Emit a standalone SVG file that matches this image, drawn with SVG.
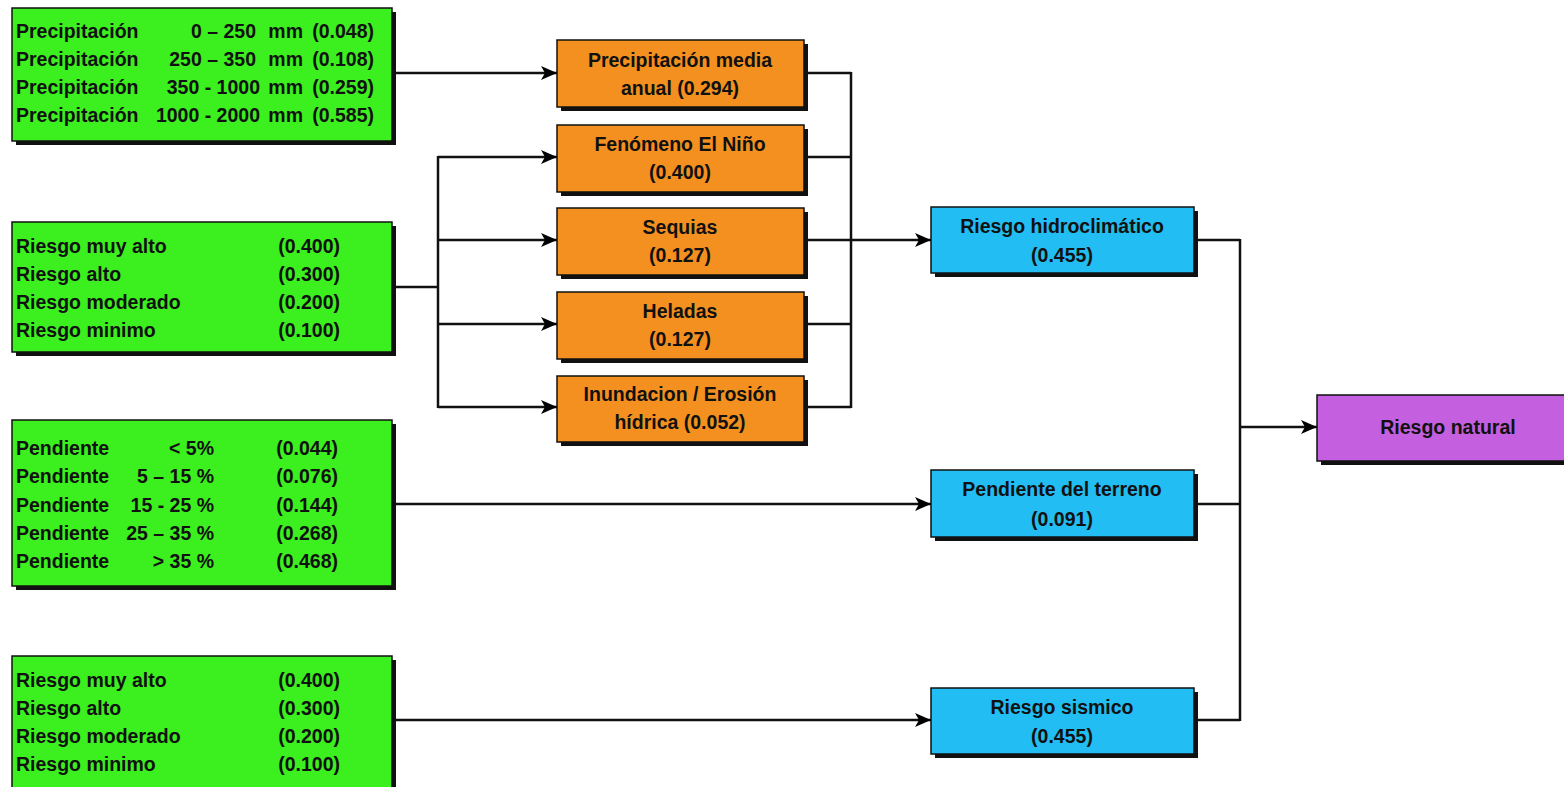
<svg xmlns="http://www.w3.org/2000/svg" width="1564" height="787" viewBox="0 0 1564 787">
<defs>
<marker id="arr" viewBox="0 0 16 14" refX="16" refY="7" markerWidth="16" markerHeight="14" markerUnits="userSpaceOnUse" orient="auto">
<path d="M0,0 L16,7 L0,14 L4,7 Z" fill="#000"/>
</marker>
</defs>
<style>
text{font-family:"Liberation Sans",Arial,sans-serif;font-weight:bold;font-size:19.5px;fill:#111;}
.c{text-anchor:middle;}
.e{text-anchor:end;}
.sh{fill:#111;}
.green{fill:#3cef1e;stroke:#111;stroke-width:1.5;}
.orange{fill:#f3901f;stroke:#111;stroke-width:1.5;}
.blue{fill:#22bdf2;stroke:#111;stroke-width:1.5;}
.purple{fill:#c45fdf;stroke:#111;stroke-width:1.5;}
.ln{fill:none;stroke:#111;stroke-width:2.5;}
</style>
<rect width="1564" height="787" fill="#fff"/>

<g id="connectors">
<path class="ln" d="M392,73 H557" marker-end="url(#arr)"/>
<path class="ln" d="M392,287 H438 M438,156 V408"/>
<path class="ln" d="M438,157 H557" marker-end="url(#arr)"/>
<path class="ln" d="M438,240 H557" marker-end="url(#arr)"/>
<path class="ln" d="M438,324 H557" marker-end="url(#arr)"/>
<path class="ln" d="M438,407 H557" marker-end="url(#arr)"/>
<path class="ln" d="M804,73 H851 M804,157 H851 M804,324 H851 M804,407 H851 M851,72 V408"/>
<path class="ln" d="M804,240 H931" marker-end="url(#arr)"/>
<path class="ln" d="M392,504 H931" marker-end="url(#arr)"/>
<path class="ln" d="M392,720 H931" marker-end="url(#arr)"/>
<path class="ln" d="M1194,240 H1240 M1194,504 H1240 M1194,720 H1240 M1240,239 V721"/>
<path class="ln" d="M1240,427 H1317" marker-end="url(#arr)"/>
</g>

<g id="precip-classes">
<rect class="sh" x="16" y="12" width="380" height="133"/>
<rect class="green" x="12" y="8" width="380" height="133"/>
<text x="16" y="38">Precipitación</text><text class="e" x="256" y="38">0 – 250</text><text class="e" x="303" y="38">mm</text><text class="e" x="374" y="38">(0.048)</text>
<text x="16" y="66">Precipitación</text><text class="e" x="256" y="66">250 – 350</text><text class="e" x="303" y="66">mm</text><text class="e" x="374" y="66">(0.108)</text>
<text x="16" y="94">Precipitación</text><text class="e" x="260" y="94">350 - 1000</text><text class="e" x="303" y="94">mm</text><text class="e" x="374" y="94">(0.259)</text>
<text x="16" y="122">Precipitación</text><text class="e" x="260" y="122">1000 - 2000</text><text class="e" x="303" y="122">mm</text><text class="e" x="374" y="122">(0.585)</text>
</g>

<g id="riesgo-classes-1">
<rect class="sh" x="16" y="226" width="380" height="130"/>
<rect class="green" x="12" y="222" width="380" height="130"/>
<text x="16" y="253">Riesgo muy alto</text><text class="e" x="340" y="253">(0.400)</text>
<text x="16" y="281">Riesgo alto</text><text class="e" x="340" y="281">(0.300)</text>
<text x="16" y="309">Riesgo moderado</text><text class="e" x="340" y="309">(0.200)</text>
<text x="16" y="337">Riesgo minimo</text><text class="e" x="340" y="337">(0.100)</text>
</g>

<g id="pendiente-classes">
<rect class="sh" x="16" y="424" width="380" height="166"/>
<rect class="green" x="12" y="420" width="380" height="166"/>
<text x="16" y="455">Pendiente</text><text class="e" x="214" y="455">&lt; 5%</text><text class="e" x="338" y="455">(0.044)</text>
<text x="16" y="483">Pendiente</text><text class="e" x="214" y="483">5 – 15 %</text><text class="e" x="338" y="483">(0.076)</text>
<text x="16" y="512">Pendiente</text><text class="e" x="214" y="512">15 - 25 %</text><text class="e" x="338" y="512">(0.144)</text>
<text x="16" y="540">Pendiente</text><text class="e" x="214" y="540">25 – 35 %</text><text class="e" x="338" y="540">(0.268)</text>
<text x="16" y="568">Pendiente</text><text class="e" x="214" y="568">&gt; 35 %</text><text class="e" x="338" y="568">(0.468)</text>
</g>

<g id="riesgo-classes-2">
<rect class="sh" x="16" y="660" width="380" height="140"/>
<rect class="green" x="12" y="656" width="380" height="140"/>
<text x="16" y="687">Riesgo muy alto</text><text class="e" x="340" y="687">(0.400)</text>
<text x="16" y="715">Riesgo alto</text><text class="e" x="340" y="715">(0.300)</text>
<text x="16" y="743">Riesgo moderado</text><text class="e" x="340" y="743">(0.200)</text>
<text x="16" y="771">Riesgo minimo</text><text class="e" x="340" y="771">(0.100)</text>
</g>

<g id="precip-media">
<rect class="sh" x="561" y="44" width="247" height="67"/>
<rect class="orange" x="557" y="40" width="247" height="67"/>
<text class="c" x="680" y="67">Precipitación media</text>
<text class="c" x="680" y="95">anual (0.294)</text>
</g>
<g id="el-nino">
<rect class="sh" x="561" y="129" width="247" height="67"/>
<rect class="orange" x="557" y="125" width="247" height="67"/>
<text class="c" x="680" y="151">Fenómeno El Niño</text>
<text class="c" x="680" y="179">(0.400)</text>
</g>
<g id="sequias">
<rect class="sh" x="561" y="212" width="247" height="67"/>
<rect class="orange" x="557" y="208" width="247" height="67"/>
<text class="c" x="680" y="234">Sequias</text>
<text class="c" x="680" y="262">(0.127)</text>
</g>
<g id="heladas">
<rect class="sh" x="561" y="296" width="247" height="67"/>
<rect class="orange" x="557" y="292" width="247" height="67"/>
<text class="c" x="680" y="318">Heladas</text>
<text class="c" x="680" y="346">(0.127)</text>
</g>
<g id="inundacion">
<rect class="sh" x="561" y="380" width="247" height="66"/>
<rect class="orange" x="557" y="376" width="247" height="66"/>
<text class="c" x="680" y="401">Inundacion / Erosión</text>
<text class="c" x="680" y="429">hídrica (0.052)</text>
</g>

<g id="riesgo-hidroclimatico">
<rect class="sh" x="935" y="211" width="263" height="66"/>
<rect class="blue" x="931" y="207" width="263" height="66"/>
<text class="c" x="1062" y="233">Riesgo hidroclimático</text>
<text class="c" x="1062" y="262">(0.455)</text>
</g>
<g id="pendiente-terreno">
<rect class="sh" x="935" y="474" width="263" height="67"/>
<rect class="blue" x="931" y="470" width="263" height="67"/>
<text class="c" x="1062" y="496">Pendiente del terreno</text>
<text class="c" x="1062" y="526">(0.091)</text>
</g>
<g id="riesgo-sismico">
<rect class="sh" x="935" y="692" width="263" height="66"/>
<rect class="blue" x="931" y="688" width="263" height="66"/>
<text class="c" x="1062" y="714">Riesgo sismico</text>
<text class="c" x="1062" y="743">(0.455)</text>
</g>

<g id="riesgo-natural">
<rect class="sh" x="1321" y="399" width="263" height="66"/>
<rect class="purple" x="1317" y="395" width="263" height="66"/>
<text class="c" x="1448" y="434">Riesgo natural</text>
</g>
</svg>
